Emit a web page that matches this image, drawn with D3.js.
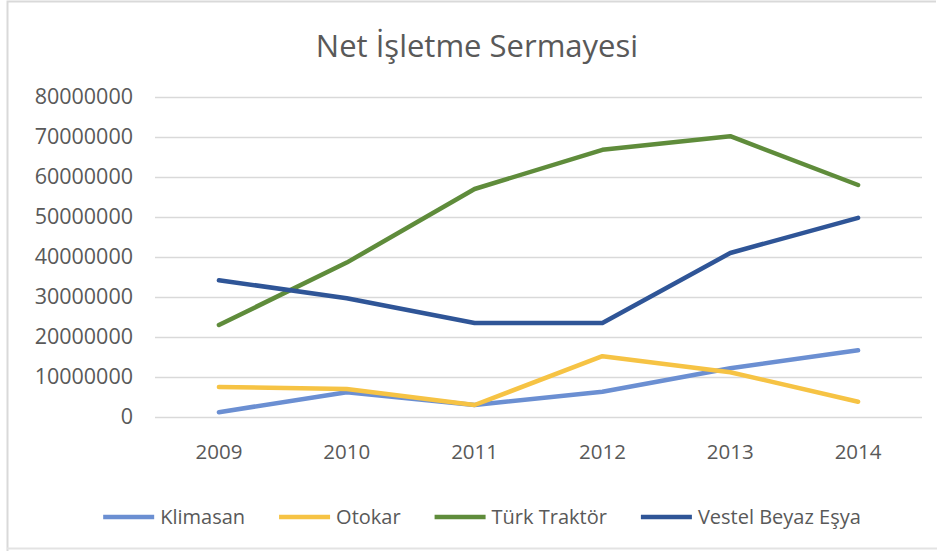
<!DOCTYPE html>
<html><head><meta charset="utf-8">
<script src="https://cdn.jsdelivr.net/npm/d3@7"></script>
<style>html,body{margin:0;padding:0;background:#fff;}svg{display:block;}</style>
</head><body>
<svg id="chart" width="937" height="551"></svg>
<script>
const years = ["2009","2010","2011","2012","2013","2014"];
const klimasan = [1200000, 6200000, 3000000, 6300000, 12200000, 16700000];
const otokar = [7500000, 7000000, 3000000, 15200000, 11200000, 3800000];
const turkTraktor = [23000000, 38600000, 57000000, 66800000, 70200000, 58000000];
const vestel = [34200000, 29700000, 23500000, 23500000, 41000000, 49800000];
const seriesNames = ["Klimasan", "Otokar", "Türk Traktör", "Vestel Beyaz Eşya"];
const seriesColors = ["#6b8fd2", "#f6c344", "#5f8c3b", "#2f5597"];
const yTicks = [0,10000000,20000000,30000000,40000000,50000000,60000000,70000000,80000000];
const title = "Net İşletme Sermayesi";

const seriesValues = [klimasan, otokar, turkTraktor, vestel];
const svg = d3.select("#chart");
const font = "'Open Sans', sans-serif";
const textColor = "#595959";

// chart border
svg.append("path").attr("d", `M7.5,551 V1.5 H936`).attr("fill","none").attr("stroke","#d9d9d9").attr("stroke-width",2);
svg.append("line").attr("x1",7).attr("x2",937).attr("y1",548.5).attr("y2",548.5).attr("stroke","#e3e3e3").attr("stroke-width",2);

const plot = {left:155, right:922, top:97, bottom:417};
const x = d3.scaleBand().domain(years).range([plot.left, plot.right]);
const y = d3.scaleLinear().domain([0, 80000000]).range([plot.bottom, plot.top]);

// title
svg.append("text").attr("x", 477).attr("y", 57).attr("text-anchor","middle")
  .attr("font-family", font).attr("font-size", 31).attr("fill", textColor).text(title);

// gridlines + y axis
const yAxis = d3.axisLeft(y).tickValues(yTicks).tickSize(-(plot.right-plot.left)).tickPadding(22)
  .tickFormat(d3.format("d"));
const gy = svg.append("g").attr("transform", `translate(${plot.left},0)`).call(yAxis);
gy.select(".domain").remove();
gy.selectAll(".tick line").attr("stroke","#d9d9d9").attr("stroke-width",1.3);
gy.selectAll(".tick text").attr("font-family", font).attr("font-size", 21.5).attr("fill", textColor);

// x axis
const xAxis = d3.axisBottom(x).tickSize(0).tickPadding(27);
const gx = svg.append("g").attr("transform", `translate(0,${plot.bottom})`).call(xAxis);
gx.select(".domain").remove();
gx.selectAll(".tick text").attr("font-family", font).attr("font-size", 20.5).attr("fill", textColor);

// lines
const line = d3.line().x((d,i) => x(years[i]) + x.bandwidth()/2).y(d => y(d));
seriesValues.forEach((vals, k) => {
  svg.append("path").datum(vals).attr("d", line).attr("fill","none")
    .attr("stroke", seriesColors[k]).attr("stroke-width", 4.5)
    .attr("stroke-linejoin","round").attr("stroke-linecap","round");
});

// legend
const lg = svg.append("g");
const items = lg.selectAll("g").data(seriesNames).enter().append("g");
items.append("line").attr("x1",0).attr("x2",51).attr("y1",0).attr("y2",0)
  .attr("stroke",(d,i)=>seriesColors[i]).attr("stroke-width",4.5);
items.append("text").attr("x",57).attr("y",0).attr("dy","0.35em")
  .attr("font-family", font).attr("font-size", 20).attr("fill", textColor).text(d=>d);
let cx = 0; const gap = 34; const offs = [];
items.each(function(){ const w = 57 + this.querySelector("text").getComputedTextLength(); offs.push(cx); cx += w + gap; });
const total = cx - gap;
const start = 482 - total/2;
items.attr("transform",(d,i)=>`translate(${start+offs[i]},517)`);
</script>
</body></html>
